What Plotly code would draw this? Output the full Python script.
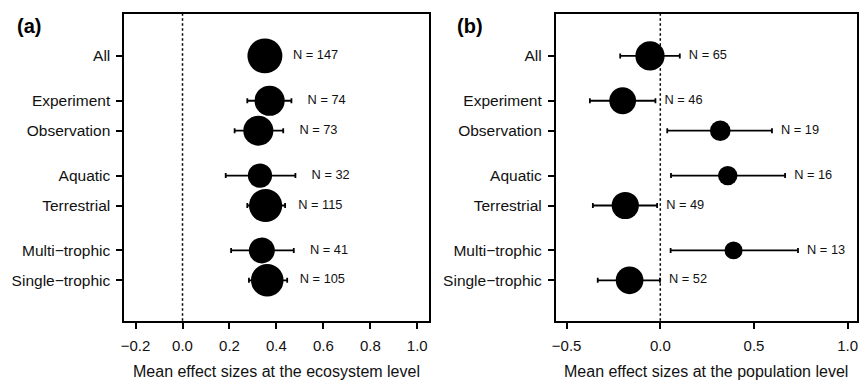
import math
import plotly.graph_objects as go

# ---- data ----
groups = [["All"], ["Experiment", "Observation"], ["Aquatic", "Terrestrial"],
          ["Multi\u2212trophic", "Single\u2212trophic"]]
categories = [c for g in groups for c in g]

eco_mean = [0.351, 0.371, 0.323, 0.330, 0.354, 0.338, 0.361]
eco_low = [0.290, 0.276, 0.222, 0.184, 0.276, 0.207, 0.283]
eco_high = [0.417, 0.464, 0.429, 0.481, 0.437, 0.474, 0.446]
eco_n = [147, 74, 73, 32, 115, 41, 105]

pop_mean = [-0.055, -0.201, 0.320, 0.360, -0.187, 0.391, -0.164]
pop_low = [-0.214, -0.376, 0.037, 0.057, -0.360, 0.055, -0.334]
pop_high = [0.104, -0.026, 0.596, 0.666, -0.017, 0.735, -0.002]
pop_n = [65, 46, 19, 16, 49, 13, 52]

eco_ticks = [-0.2, 0.0, 0.2, 0.4, 0.6, 0.8, 1.0]
pop_ticks = [-0.5, 0.0, 0.5, 1.0]

# ---- layout helpers ----
rows = []
for gi, g in enumerate(groups):
    for c in g:
        rows.append(len(rows) + 0.5 * gi)

FONT = "Liberation Sans, Arial, Helvetica, sans-serif"
W, H = 860, 381
label_off = 0.15

fig = go.Figure()


def add_panel(mean, low, high, n, xa, ya):
    sizes = [7.0 * math.log(v) for v in n]
    # error bars first (so circles sit on top)
    fig.add_trace(go.Scatter(
        x=mean, y=rows, mode="markers", xaxis=xa, yaxis=ya,
        marker=dict(color="black", size=1, opacity=0),
        error_x=dict(type="data", symmetric=False,
                     array=[h - m for h, m in zip(high, mean)],
                     arrayminus=[m - l for m, l in zip(mean, low)],
                     color="black", thickness=1.8, width=2.5),
        showlegend=False, hoverinfo="skip"))
    fig.add_trace(go.Scatter(
        x=mean, y=rows, mode="markers", xaxis=xa, yaxis=ya,
        marker=dict(color="black", size=sizes, opacity=1, line=dict(width=0)),
        showlegend=False, hoverinfo="skip"))
    fig.add_trace(go.Scatter(
        x=[h + label_off for h in high], y=rows, mode="text", xaxis=xa, yaxis=ya,
        text=[f"N = {v}" for v in n], textposition="middle center",
        textfont=dict(family=FONT, size=12.8, color="#111111"),
        showlegend=False, hoverinfo="skip"))


add_panel(eco_mean, eco_low, eco_high, eco_n, "x", "y")
add_panel(pop_mean, pop_low, pop_high, pop_n, "x2", "y2")

ytop = 1 - 14 / H
ybot = 1 - 320.7 / H

axis_common = dict(showline=True, mirror=True, linecolor="black", linewidth=1.8,
                   ticks="outside", ticklen=6, tickwidth=1.6, tickcolor="black",
                   showgrid=False, zeroline=False)
xfont = dict(family=FONT, size=15, color="#111111")
yfont = dict(family=FONT, size=15.5, color="#111111")

fig.update_layout(
    width=W, height=H, margin=dict(l=0, r=0, t=0, b=0),
    plot_bgcolor="white", paper_bgcolor="white",
    xaxis=dict(domain=[121 / W, 427 / W], range=[-0.248, 1.048],
               tickvals=eco_ticks, tickformat=".1f", anchor="y",
               ticklabelstandoff=4, tickfont=xfont, **axis_common),
    yaxis=dict(domain=[ybot, ytop], range=[8.85, -1.4],
               tickvals=rows, ticktext=categories, anchor="x",
               ticklabelstandoff=3, tickfont=yfont, **axis_common),
    xaxis2=dict(domain=[555 / W, 858 / W], range=[-0.558, 1.05],
                tickvals=pop_ticks, tickformat=".1f", anchor="y2",
                ticklabelstandoff=4, tickfont=xfont, **axis_common),
    yaxis2=dict(domain=[ybot, ytop], range=[8.85, -1.4],
                tickvals=rows, ticktext=categories, anchor="x2",
                ticklabelstandoff=3, tickfont=yfont, **axis_common),
)

for xr, yr in (("x", "y domain"), ("x2", "y2 domain")):
    fig.add_shape(type="line", xref=xr, yref=yr, x0=0, x1=0, y0=0, y1=1,
                  line=dict(color="black", width=1.5, dash="2.5px,2.5px"), layer="below")

titles = [("Mean effect sizes at the ecosystem level", (121 + 427) / 2 / W),
          ("Mean effect sizes at the population level", (555 + 858) / 2 / W)]
for t, xc in titles:
    fig.add_annotation(text=t, x=xc, y=1 - 371.7 / H, xref="paper", yref="paper",
                       xanchor="center", yanchor="middle", showarrow=False,
                       font=dict(family=FONT, size=16, color="#111111"))

for t, xc in (("<b>(a)</b>", 24.7), ("<b>(b)</b>", 469)):
    fig.add_annotation(text=t, x=xc / W, y=1 - 26.5 / H, xref="paper", yref="paper",
                       xanchor="center", yanchor="middle", showarrow=False,
                       font=dict(family=FONT, size=20, color="black"))

fig.write_html("out.html", config={"displayModeBar": False},
               post_script="document.body.style.margin='0';"
                           "document.body.style.overflow='hidden';")
